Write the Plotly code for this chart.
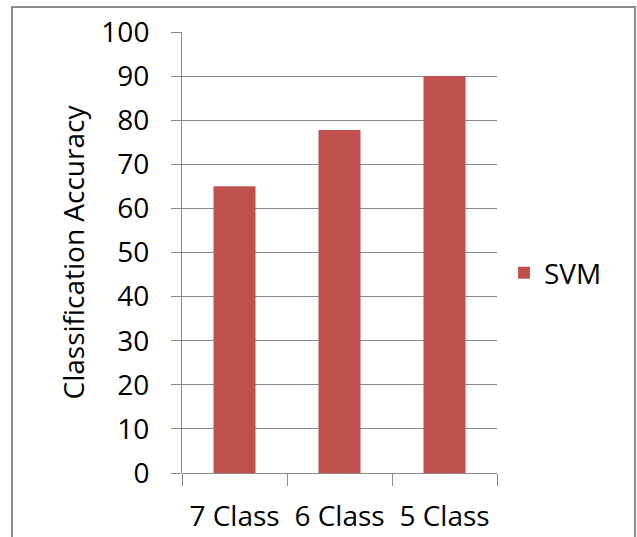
import plotly.graph_objects as go

categories = ["7 Class", "6 Class", "5 Class"]
svm_values = [65, 77.8, 90]
y_ticks = list(range(0, 101, 10))

W, H = 637, 537
L, R, T, B = 182, 140, 32, 64
pw, ph = W - L - R, H - T - B

def px_x(x):
    return (x - L) / pw

def px_y(y):
    return (H - B - y) / ph

FONT = "Open Sans"
GRID = "#8a8a8a"
FS = 28

fig = go.Figure()
fig.add_trace(go.Bar(
    x=categories, y=svm_values, name="SVM",
    marker=dict(color="#C0504D", line=dict(width=0)),
    width=0.4,
))

fig.update_layout(
    width=W, height=H,
    margin=dict(l=L, r=R, t=T, b=B, pad=0, autoexpand=False),
    paper_bgcolor="white", plot_bgcolor="white",
    font=dict(family=FONT, size=FS, color="black"),
    showlegend=True,
    legend=dict(x=px_x(504), y=px_y(273), xanchor="left", yanchor="middle",
                font=dict(size=FS), itemwidth=30, bgcolor="rgba(0,0,0,0)"),
    bargap=0.6,
    shapes=[dict(type="rect", xref="paper", yref="paper",
                 x0=px_x(12), x1=px_x(635), y0=px_y(560), y1=px_y(7),
                 line=dict(color="#8c8c8c", width=2), fillcolor="rgba(0,0,0,0)", layer="below")],
)
fig.update_xaxes(
    type="category", range=[-0.5, 2.5], automargin=False,
    tickson="boundaries", ticks="outside", ticklen=12, tickcolor=GRID, tickwidth=1,
    showline=False, showgrid=False, zeroline=False,
    tickfont=dict(size=FS), ticklabelstandoff=24,
)
fig.update_yaxes(
    range=[0, 100], tickvals=y_ticks, ticktext=[str(v) for v in y_ticks], automargin=False,
    ticks="outside", ticklen=10, tickcolor=GRID, tickwidth=1,
    showline=True, linecolor=GRID, linewidth=1,
    showgrid=True, gridcolor=GRID, gridwidth=1,
    zeroline=True, zerolinecolor=GRID, zerolinewidth=1,
    tickfont=dict(size=FS), ticklabelstandoff=16,
    title=dict(text="Classification Accuracy", font=dict(size=FS), standoff=8),
)

fig.write_html("out.html")
